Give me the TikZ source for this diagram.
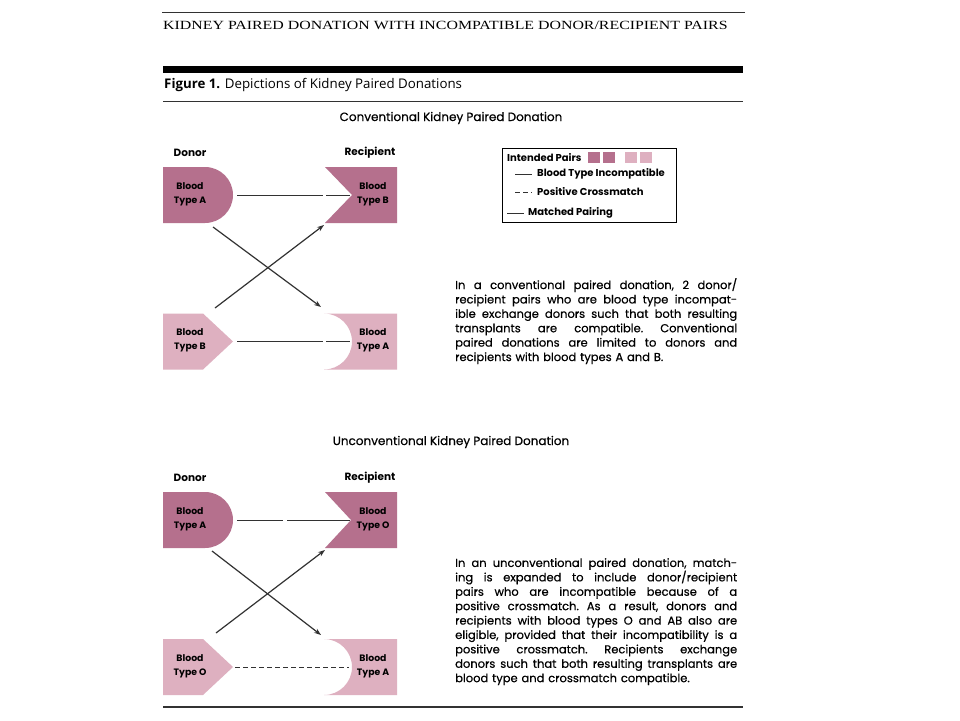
\documentclass[tikz,border=0pt]{standalone}
\usepackage{graphicx}
\usepackage{fontspec}
\setmainfont{Poppins}
\newfontfamily\parafont{Poppins}[FakeBold=0.5]
\newfontfamily\headserif{Liberation Serif}
\newfontfamily\capfont{Open Sans}
\usetikzlibrary{arrows.meta}
\definecolor{darkm}{RGB}{181,112,141}
\definecolor{lightm}{RGB}{222,176,192}
\definecolor{ink}{RGB}{50,50,50}
\newcommand{\jline}[1]{{\frenchspacing\spaceskip=\fontdimen2\font plus 1fil\relax\makebox[282pt][s]{#1}}\\}
\begin{document}
\begin{tikzpicture}[x=1pt,y=-1pt,
  lbl/.style={font=\fontsize{9.3}{14}\selectfont\bfseries, align=center, inner sep=0},
  colhead/.style={font=\fontsize{10.5}{12}\selectfont\bfseries, inner sep=0},
  sectitle/.style={font=\parafont\fontsize{12}{13}\selectfont, inner sep=0},
  para/.style={font=\parafont\fontsize{11.5}{14.4}\selectfont, inner sep=0, anchor=north west, align=left, text width=282pt},
  pairline/.style={draw=ink, line width=1pt},
  xarrow/.style={draw=ink, line width=1.2pt, -{Stealth[length=7pt,width=5pt]}},
  legtext/.style={font=\fontsize{10}{11}\selectfont\bfseries, anchor=west, inner sep=0},
  darkshape/.style={fill=darkm},
  lightshape/.style={fill=lightm},
  rulethin/.style={draw=ink, line width=0.8pt},
]
\useasboundingbox (0,0) rectangle (960,720);
\fill[white] (0,0) rectangle (960,720);

% rules and page header
\draw[rulethin] (162,12) -- (745,12);
\node[anchor=west, inner sep=0, font=\headserif\fontsize{12.5}{14}\selectfont] (head) at (163,25)
  {\scalebox{1.27}[1]{KIDNEY PAIRED DONATION WITH INCOMPATIBLE DONOR/RECIPIENT PAIRS}};
\fill[black] (163,66) rectangle (743,73);
\node[anchor=west, inner sep=0, font=\capfont\fontsize{13.3}{15}\selectfont] (fig) at (164,85)
  {\textbf{Figure 1.} Depictions of Kidney Paired Donations};
\draw[rulethin] (163,101) -- (743,101);
\draw[draw=ink, line width=1.8pt] (163,707) -- (743,707);

% ---------- conventional ----------
\node[sectitle] (t1) at (451,118) {Conventional Kidney Paired Donation};
\node[colhead] (don1) at (190,153) {Donor};
\node[colhead] (rec1) at (370,153) {Recipient};

\fill[darkshape] (163,167) -- (205,167) arc[start angle=-90,end angle=90,radius=28] -- (163,223) -- cycle;
\fill[darkshape] (325,167) -- (397,167) -- (397,223) -- (325,223) -- (352,195) -- cycle;
\fill[lightshape] (163,313.5) -- (203,313.5) -- (233,341.5) -- (203,369.5) -- (163,369.5) -- cycle;
\fill[lightshape] (324,313.5) -- (397,313.5) -- (397,369.5) -- (324,369.5) arc[start angle=90,end angle=-90,radius=28] -- cycle;

\node[lbl] (a1) at (190,194) {Blood\\Type A};
\node[lbl] (b1) at (373,194) {Blood\\Type B};
\node[lbl] (c1) at (190,340.5) {Blood\\Type B};
\node[lbl] (d1) at (373,340.5) {Blood\\Type A};

\coordinate (a1e) at (237,195);
\coordinate (a1m) at (323,195);
\coordinate (b1m) at (326,195);
\coordinate (b1e) at (350,195);
\coordinate (c1e) at (237,341.5);
\coordinate (c1m) at (323,341.5);
\coordinate (d1m) at (326,341.5);
\coordinate (d1e) at (350,341.5);
\coordinate (a1x) at (213,227);
\coordinate (d1x) at (321,307);
\coordinate (c1x) at (215,308);
\coordinate (b1x) at (324,225);

\draw[pairline] (a1e) -- (a1m);
\draw[pairline] (b1m) -- (b1e);
\draw[pairline] (c1e) -- (c1m);
\draw[pairline] (d1m) -- (d1e);
\draw[xarrow] (a1x) -- (d1x);
\draw[xarrow] (c1x) -- (b1x);

% legend
\draw[draw=black, line width=0.8pt] (502,148) rectangle (676,222);
\node[legtext] (lg0) at (507,157.5) {Intended Pairs};
\fill[darkshape] (588,152) rectangle (600,163);
\fill[darkshape] (603,152) rectangle (615,163);
\fill[lightshape] (625,152) rectangle (637,163);
\fill[lightshape] (640,152) rectangle (652,163);
\coordinate (l1a) at (515,174);
\coordinate (l1b) at (532,174);
\coordinate (l2a) at (515,192);
\coordinate (l2b) at (532,192);
\coordinate (l3a) at (507,213);
\coordinate (l3b) at (524,213);
\draw[pairline] (l1a) -- (l1b);
\draw[pairline, dash pattern=on 5pt off 3pt] (l2a) -- (l2b);
\draw[pairline] (l3a) -- (l3b);
\node[legtext] (lg1) at (537,174) {Blood Type Incompatible};
\node[legtext] (lg2) at (537,192) {Positive Crossmatch};
\node[legtext] (lg3) at (528,213) {Matched Pairing};

\node[para] (p1) at (455,278) {%
\jline{In a conventional paired donation, 2 donor/}
\jline{recipient pairs who are blood type incompat-}
\jline{ible exchange donors such that both resulting}
\jline{transplants are compatible. Conventional}
\jline{paired donations are limited to donors and}
recipients with blood types A and B.};

% ---------- unconventional ----------
\node[sectitle] (t2) at (451,442) {Unconventional Kidney Paired Donation};
\node[colhead] (don2) at (190,478) {Donor};
\node[colhead] (rec2) at (370,478) {Recipient};

\fill[darkshape] (163,492) -- (205,492) arc[start angle=-90,end angle=90,radius=28] -- (163,548) -- cycle;
\fill[darkshape] (325,492) -- (397,492) -- (397,548) -- (325,548) -- (351,520) -- cycle;
\fill[lightshape] (163,639) -- (203,639) -- (233,667) -- (203,695) -- (163,695) -- cycle;
\fill[lightshape] (324,639) -- (397,639) -- (397,695) -- (324,695) arc[start angle=90,end angle=-90,radius=28] -- cycle;

\node[lbl] (a2) at (190,519) {Blood\\Type A};
\node[lbl] (b2) at (373,519) {Blood\\Type O};
\node[lbl] (c2) at (190,666) {Blood\\Type O};
\node[lbl] (d2) at (373,666) {Blood\\Type A};

\coordinate (a2e) at (237,520);
\coordinate (a2m) at (283,520);
\coordinate (b2m) at (287,520);
\coordinate (b2e) at (350,520);
\coordinate (c2e) at (235,667);
\coordinate (d2e) at (349,667);
\coordinate (a2x) at (212,551);
\coordinate (d2x) at (321,635);
\coordinate (c2x) at (216,633);
\coordinate (b2x) at (325,550);

\draw[pairline] (a2e) -- (a2m);
\draw[pairline] (b2m) -- (b2e);
\draw[pairline, dash pattern=on 5pt off 3pt] (c2e) -- (d2e);
\draw[xarrow] (a2x) -- (d2x);
\draw[xarrow] (c2x) -- (b2x);

\node[para] (p2) at (455,558) {%
\jline{In an unconventional paired donation, match-}
\jline{ing is expanded to include donor/recipient}
\jline{pairs who are incompatible because of a}
\jline{positive crossmatch. As a result, donors and}
\jline{recipients with blood types O and AB also are}
\jline{eligible, provided that their incompatibility is a}
\jline{positive crossmatch. Recipients exchange}
\jline{donors such that both resulting transplants are}
blood type and crossmatch compatible.};
\end{tikzpicture}
\end{document}
